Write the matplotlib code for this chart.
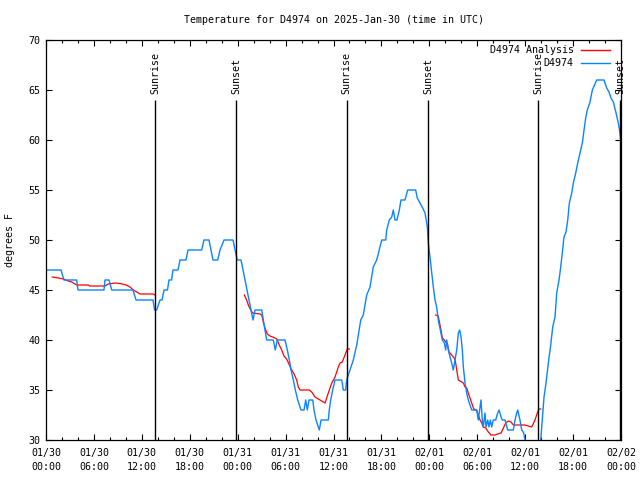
import numpy as np
import pandas as pd
import matplotlib
matplotlib.use("Agg")
import matplotlib.pyplot as plt
import matplotlib.dates as mdates

plt.rcParams['font.family'] = ['DejaVu Sans Mono']
FS = 7.2

START = pd.Timestamp('2025-01-30 00:00')

# observed temperatures (hours after 01/30 00:00 UTC, deg F)
obs_hours = [0.00, 1.88, 2.25, 3.84, 4.01, 7.26, 7.39, 7.89, 8.23, 10.89, 11.27, 13.40,
             13.59, 13.86, 14.28, 14.53, 14.78, 15.21, 15.40, 15.72, 15.90, 16.53, 16.78,
             17.53, 17.78, 19.50, 19.78, 20.41,
             20.91, 21.50, 21.79, 22.29, 23.42, 23.67, 23.95, 24.42, 24.67, 24.92, 25.17,
             25.42, 25.67, 25.92, 26.17, 27.01, 27.21, 27.42, 27.64, 28.46, 28.71, 28.96,
             29.93, 30.22, 30.47, 30.68, 30.97, 31.22, 31.52, 31.93, 32.31, 32.52, 32.72,
             32.93, 33.40, 33.56, 33.81, 34.22, 34.44, 35.35, 35.47, 35.65, 35.90, 36.19,
             37.03, 37.23, 37.53, 37.65, 38.07, 38.48, 38.91, 39.41, 39.73, 40.16, 40.57,
             40.98, 41.41, 41.82, 42.04, 42.54, 42.66, 42.99, 43.29, 43.49, 43.70, 43.95,
             44.24, 44.45, 44.95, 45.29, 46.29, 46.49, 46.83, 47.17, 47.46, 47.75, 47.87,
             48.08, 48.30, 48.50, 48.71, 48.92, 49.12, 49.46, 49.63, 49.88, 50.05, 50.18,
             50.38, 50.59, 50.80, 51.00, 51.43, 51.63, 51.80, 51.97, 52.13, 52.26, 52.47,
             52.68, 52.88, 53.31, 53.93, 54.13, 54.47, 54.63, 54.76, 54.97, 55.10, 55.31,
             55.47, 55.64, 55.81, 56.01, 56.31, 56.56, 56.73, 56.98, 57.14, 57.48, 57.81,
             58.52, 58.73, 58.94, 59.07, 59.35, 59.57, 59.82, 59.98, 60.36, 61.61, 61.95,
             62.20, 62.36, 62.61, 62.90, 63.20, 63.45, 63.74, 63.95, 64.24, 64.45, 64.65,
             64.86, 65.11, 65.33, 65.53, 65.83, 66.03, 66.33, 66.58, 66.87, 67.16, 67.37,
             67.58, 67.78, 68.12, 68.41, 68.96, 69.87, 70.21, 70.50, 70.75, 71.04, 71.38,
             71.66, 71.88, 71.96]
obs_temps = [47, 47, 46, 46, 45, 45, 46, 46, 45, 45, 44, 44,
             43, 43, 44, 44, 45, 45, 46, 46, 47, 47, 48,
             48, 49, 49, 50, 50,
             48, 48, 49, 50, 50, 49, 48, 48, 47, 46, 45,
             44, 43, 42, 43, 43, 42, 41, 40, 40, 39, 40,
             40, 39, 38, 37, 36, 35, 34, 33, 33, 34, 33,
             34, 34, 33, 32, 31, 32, 32, 33, 34, 35, 36,
             36, 35, 35, 36, 37, 38, 39.5, 42, 42.5, 44.5, 45.3,
             47.3, 48, 49.3, 50, 50, 51, 52, 52.3, 53, 52, 52,
             53, 54, 54, 55, 55, 54.2, 53.7, 53.2, 52.7, 51.3, 49.7,
             48.3, 46.7, 45.3, 44, 43.3, 42, 40.7, 40, 39.7, 39, 40,
             39, 38.3, 37.7, 37, 39, 40.7, 41, 40.3, 39, 37.3, 35.7,
             34.7, 34, 33, 33, 32, 34, 32, 31.3, 32.7, 31.3, 32,
             31.3, 32, 31.3, 32, 32, 32.7, 33, 32.3, 32, 32, 31,
             31, 32, 32.7, 33, 32, 31, 30.7, 30, 29, 29, 30,
             32.7, 34.3, 35.7, 37.7, 39.5, 41.3, 42.3, 44.7, 46, 47.3, 48.7,
             50.3, 50.8, 52, 53.7, 54.7, 55.7, 56.7, 57.7, 58.7, 59.7, 61,
             62.2, 63, 63.8, 65, 66, 66, 65.2, 64.8, 64.2, 63.8, 62.7,
             61.7, 60.7, 60]

# analysis runs (three overnight segments)
ana1_hours = [0.79, 1.54, 2.17, 2.79, 3.22, 3.63, 3.84, 5.30, 5.42, 7.39, 7.80, 8.64,
              9.27, 10.02, 10.52, 10.93, 11.36, 11.77, 13.44, 13.65]
ana1_temps = [46.3, 46.2, 46.1, 45.9, 45.8, 45.6, 45.5, 45.5, 45.4, 45.4, 45.6, 45.7,
              45.65, 45.5, 45.3, 45.0, 44.8, 44.6, 44.6, 44.5]
ana2_hours = [24.83, 25.13, 25.33, 25.63, 25.88, 26.80, 27.01, 27.21, 27.42, 27.71, 28.05,
              28.68, 28.89, 29.21, 29.51, 29.80, 30.14, 30.47, 30.77, 31.06, 31.39, 31.59,
              31.81, 32.97, 33.27, 33.68, 34.10, 34.52, 34.94, 35.35, 35.78, 36.19, 36.60,
              36.82, 37.10, 37.44, 37.73, 37.98]
ana2_temps = [44.5, 44.0, 43.5, 43.0, 42.7, 42.6, 42.5, 41.8, 41.2, 40.6, 40.4,
              40.2, 40.1, 39.5, 39.0, 38.4, 38.1, 37.5, 37.0, 36.6, 36.0, 35.3,
              35.0, 35.0, 34.8, 34.3, 34.1, 33.9, 33.7, 34.7, 35.7, 36.3, 37.3,
              37.7, 37.8, 38.5, 39.1, 39.1]
ana3_hours = [48.80, 49.12, 49.21, 49.46, 49.63, 49.88, 50.05, 50.30, 50.46, 50.80, 51.00,
              51.13, 51.30, 51.43, 51.63, 52.06, 52.26, 52.47, 52.68, 52.88, 53.09, 53.31,
              53.51, 53.72, 53.93, 54.13, 54.35, 54.56, 54.76, 55.06, 55.39, 55.72, 56.23,
              56.56, 56.98, 57.27, 57.57, 57.89, 58.23, 58.52, 59.98, 60.40, 60.82, 61.23,
              61.52, 61.73, 61.95]
ana3_temps = [42.5, 42.4, 42.0, 41.0, 40.2, 40.0, 39.8, 39.5, 38.8, 38.5, 38.3,
              38.2, 37.7, 37.0, 36.0, 35.8, 35.7, 35.3, 35.2, 34.7, 34.2, 33.7,
              33.2, 33.0, 33.0, 32.5, 32.0, 31.7, 31.3, 31.2, 30.8, 30.5, 30.5,
              30.6, 30.7, 31.2, 31.7, 31.9, 31.8, 31.5, 31.5, 31.4, 31.3, 32.0,
              32.7, 33.1, 33.1]

sun_times = ['2025-01-30 13:40', '2025-01-30 23:50', '2025-01-31 13:39',
             '2025-01-31 23:51', '2025-02-01 13:38', '2025-02-01 23:52']
sun_labels = ['Sunrise', 'Sunset', 'Sunrise', 'Sunset', 'Sunrise', 'Sunset']


def to_time(hours):
    return START + pd.to_timedelta(np.asarray(hours), unit='h')


fig = plt.figure(figsize=(6.4, 4.8), dpi=100)
ax = fig.add_axes([46 / 640, 40 / 480, 575 / 640, 400 / 480])

red = '#ff0000'
blue = '#0a84ff'
for h, t in [(ana1_hours, ana1_temps), (ana2_hours, ana2_temps), (ana3_hours, ana3_temps)]:
    ax.plot(to_time(h), t, color=red, lw=0.9)
ax.plot(to_time(obs_hours), obs_temps, color=blue, lw=1.0)

sun_dt = pd.to_datetime(sun_times)
ax.vlines(sun_dt, 30, 64, color='black', lw=1.0, zorder=3)
for t, lab in zip(sun_dt, sun_labels):
    ax.text(t, 64.6, lab, rotation=90, ha='center', va='bottom', fontsize=FS)

ax.set_xlim(START, START + pd.Timedelta(hours=72))
ax.set_ylim(30, 70)
ax.set_yticks(np.arange(30, 71, 5))
ax.xaxis.set_major_locator(mdates.HourLocator(byhour=[0, 6, 12, 18]))
ax.xaxis.set_minor_locator(mdates.HourLocator(byhour=range(0, 24, 2)))
ax.xaxis.set_major_formatter(mdates.DateFormatter('%m/%d\n%H:%M'))
ax.tick_params(which='both', direction='in', top=True, right=True, labelsize=FS, width=0.8)
ax.tick_params(which='major', length=4.5)
ax.tick_params(which='minor', length=2.5)
ax.tick_params(axis='x', pad=6)
ax.tick_params(axis='y', pad=4)
for lab in ax.get_xticklabels():
    lab.set_linespacing(1.45)
for s in ax.spines.values():
    s.set_linewidth(0.9)

ax.set_ylabel('degrees F', fontsize=FS, labelpad=10)
ax.set_title('Temperature for D4974 on 2025-Jan-30 (time in UTC)', fontsize=FS, pad=12.5)

# legend, gnuplot style: label right-aligned, sample line after it
for yy, lab, col in [(0.975, 'D4974 Analysis', red), (0.9425, 'D4974', blue)]:
    ax.text(0.918, yy, lab, transform=ax.transAxes, ha='right', va='center', fontsize=FS)
    ax.plot([0.9304, 0.9809], [yy, yy], transform=ax.transAxes, color=col, lw=1.0)

fig.savefig('out.png', dpi=100)
